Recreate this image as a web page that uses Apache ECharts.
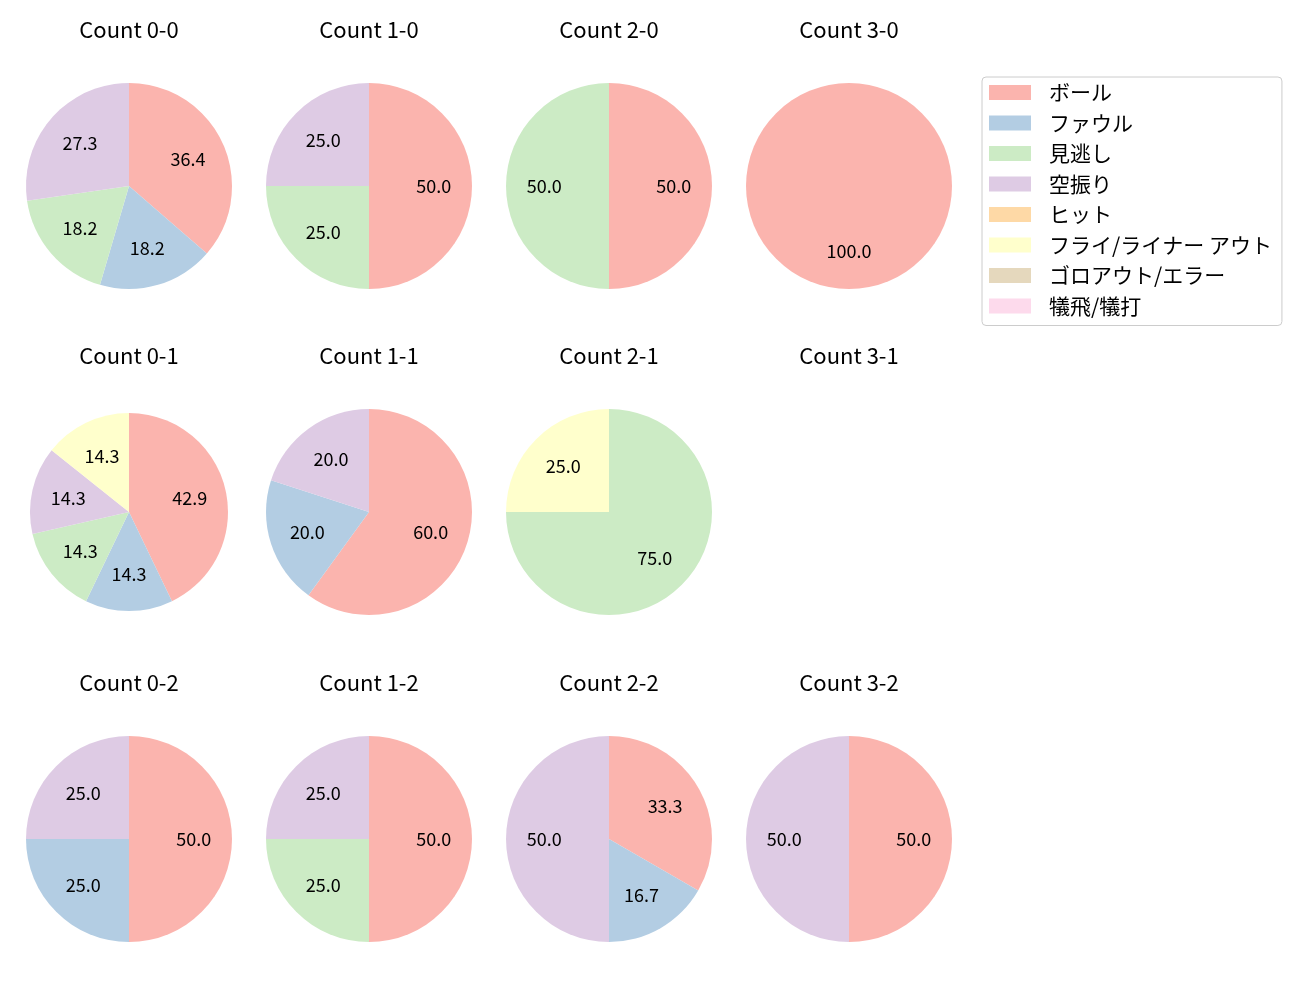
<!DOCTYPE html>
<html><head><meta charset="utf-8">
<script src="https://cdn.jsdelivr.net/npm/echarts@6/dist/echarts.min.js"></script>
<style>html,body{margin:0;padding:0;background:#fff}#c{width:1300px;height:1000px}</style>
</head><body><div id="c"></div>
<script>
const categories = ["ボール","ファウル","見逃し","空振り","ヒット","フライ/ライナー アウト","ゴロアウト/エラー","犠飛/犠打"];
const colors = ["#fbb4ae","#b3cde3","#ccebc5","#decbe4","#fed9a6","#ffffcc","#e5d8bd","#fddaec"];
const counts = ["0-0","1-0","2-0","3-0","0-1","1-1","2-1","3-1","0-2","1-2","2-2","3-2"];
// values per count, in category order
const v00 = [4,2,2,3,0,0,0,0];
const v10 = [2,0,1,1,0,0,0,0];
const v20 = [1,0,1,0,0,0,0,0];
const v30 = [1,0,0,0,0,0,0,0];
const v01 = [3,1,1,1,0,1,0,0];
const v11 = [3,1,0,1,0,0,0,0];
const v21 = [0,0,3,0,0,1,0,0];
const v31 = [0,0,0,0,0,0,0,0];
const v02 = [2,1,0,1,0,0,0,0];
const v12 = [2,0,1,1,0,0,0,0];
const v22 = [2,1,0,3,0,0,0,0];
const v32 = [1,0,0,1,0,0,0,0];
const values = [v00,v10,v20,v30,v01,v11,v21,v31,v02,v12,v22,v32];

const colX = [129,369,609,849];
const rowY = [186,512,839];
const titleY = [29.5,356,682.5];
const FONT = '"Noto Sans CJK JP", "Noto Sans", sans-serif';

const series = [];
const titles = [];
counts.forEach((c,i)=>{
  const col = i%4, row = Math.floor(i/4);
  const cx = colX[col], cy = rowY[row];
  const r = (c==="0-1") ? 99 : 103;
  titles.push({text:"Count "+c, left:cx, top:titleY[row]-13, textAlign:'center', padding:0,
    textStyle:{fontFamily:FONT,fontSize:22,fontWeight:'normal',color:'#000',lineHeight:26}});
  const vals = values[i];
  const total = vals.reduce((a,b)=>a+b,0);
  if(total===0) return;
  const data = [];
  vals.forEach((v,k)=>{ if(v>0) data.push({name:categories[k], value:v, itemStyle:{color:colors[k]}}); });
  series.push({type:'pie', center:[cx,cy], radius:[0,r], startAngle:90, clockwise:true,
    avoidLabelOverlap:false, animation:false, label:{show:false}, labelLine:{show:false},
    itemStyle:{borderWidth:0}, emphasis:{disabled:true}, data:data});
  series.push({type:'pie', center:[cx,cy], radius:[0.2*r,r], startAngle:90, clockwise:true,
    avoidLabelOverlap:false, animation:false, silent:true,
    itemStyle:{color:'rgba(0,0,0,0)',borderWidth:0}, emphasis:{disabled:true},
    label:{show:true, position:'inside', fontFamily:FONT, fontSize:18, color:'#000',
      formatter:(p)=>(p.value/total*100).toFixed(1)},
    labelLine:{show:false},
    data:data.map(d=>({name:d.name,value:d.value}))});
});
// legend holder series (all categories)
series.unshift({type:'pie', center:[-500,-500], radius:[0,1], silent:true, animation:false,
  label:{show:false}, labelLine:{show:false},
  data:categories.map((n,k)=>({name:n,value:1,itemStyle:{color:colors[k]}}))});

const chart = echarts.init(document.getElementById('c'));
chart.setOption({
  animation:false,
  title:titles,
  legend:{orient:'vertical', left:982, top:77, data:categories,
    itemWidth:42, itemHeight:15, itemGap:9.5, icon:'rect', selectedMode:false,
    padding:[5,10,9,7],
    borderColor:'#cccccc', borderWidth:1, borderRadius:4, backgroundColor:'#fff',
    textStyle:{fontFamily:FONT, fontSize:21, lineHeight:20, color:'#000', padding:[0,0,0,13]}},
  series:series
});
</script></body></html>
